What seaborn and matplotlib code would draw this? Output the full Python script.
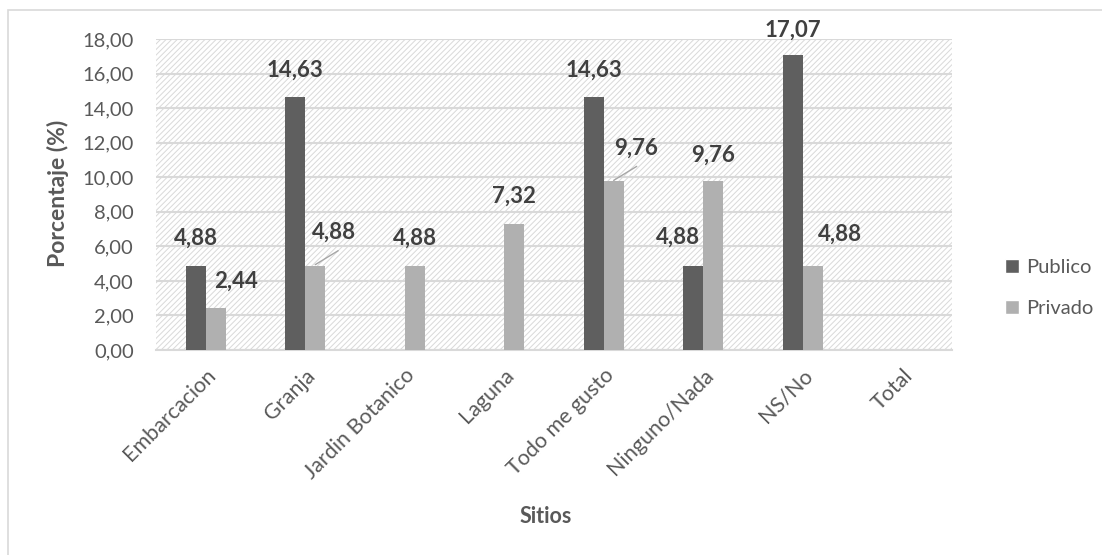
import matplotlib
matplotlib.use("Agg")
import matplotlib.pyplot as plt
import seaborn as sns
import pandas as pd
from matplotlib.patches import Rectangle
from matplotlib.lines import Line2D

categories = ["Embarcacion", "Granja", "Jardin Botanico", "Laguna",
              "Todo me gusto", "Ninguno/Nada", "NS/No", "Total"]
publico = [4.88, 14.63, 0.0, 0.0, 14.63, 4.88, 17.07, 0.0]
privado = [2.44, 4.88, 4.88, 7.32, 9.76, 9.76, 4.88, 0.0]
series_names = ["Publico", "Privado"]
y_ticks = [0, 2, 4, 6, 8, 10, 12, 14, 16, 18]

# label offsets in pixels (dx, dy) from top-center of each bar; None -> no label
pub_offsets = [(0, 27), (0, 27), None, None, (0, 27), (-15, 28), (0, 25), None]
priv_offsets = [(20, 27), (19, 33), (0, 27), (0, 27), (22, 33), (0, 26), (27, 31), None]
leader = [False, True, False, False, True, False, False, False]

df = pd.DataFrame({
    "Sitios": categories * 2,
    "Serie": [series_names[0]] * len(categories) + [series_names[1]] * len(categories),
    "Valor": publico + privado,
})

sns.set_theme(style="white")
font = "Lato"
plt.rcParams["font.family"] = [font, "DejaVu Sans"]
plt.rcParams["hatch.linewidth"] = 0.7

txt = "#595959"
pub_c = "#5f5f5f"
priv_c = "#b0b0b0"

fig = plt.figure(figsize=(11.02, 5.55), dpi=100)
ax = fig.add_axes([156 / 1102, 1 - 350 / 555, (952 - 156) / 1102, (350 - 39) / 555])

# hatched plot-area background
ax.set_facecolor("white")
bg = Rectangle((0, 0), 1, 1, transform=ax.transAxes, facecolor="white",
               edgecolor="#d9d9d9", hatch="//////", linewidth=0, zorder=0)
ax.add_patch(bg)

sns.barplot(data=df, x="Sitios", y="Valor", hue="Serie",
            palette=[pub_c, priv_c], width=0.4, dodge=True, ax=ax,
            saturation=1, legend=True, zorder=3, linewidth=0)

ax.set_ylim(0, 18)
ax.set_xlim(-0.5, len(categories) - 0.5)
ax.set_yticks(y_ticks)
ax.set_yticklabels([f"{v:.2f}".replace(".", ",") for v in y_ticks])
ax.yaxis.grid(True, color="#d9d9d9", linewidth=1.5, zorder=1)
ax.set_axisbelow(True)
for s in ["top", "right", "left"]:
    ax.spines[s].set_visible(False)
ax.spines["bottom"].set_color("#d9d9d9")
ax.spines["bottom"].set_linewidth(1.5)
ax.tick_params(axis="y", length=0, labelsize=14.5, colors=txt, pad=16)
ax.tick_params(axis="x", length=0, labelsize=15.5, colors=txt, pad=11)
plt.setp(ax.get_xticklabels(), rotation=45, ha="right", rotation_mode="anchor")

ax.set_xlabel("Sitios", fontsize=15.5, fontweight="bold", color=txt)
ax.set_ylabel("Porcentaje (%)", fontsize=16.5, fontweight="bold", color=txt)
ax.xaxis.set_label_coords((546 - 156) / 796, (350 - 506) / 311)
ax.yaxis.set_label_coords((69 - 156) / 796, (350 - 193) / 311)

# data labels
bars = [p for p in ax.patches if p is not bg]
n = len(categories)
pub_bars = sorted(bars[:n], key=lambda p: p.get_x())
priv_bars = sorted(bars[n:2 * n], key=lambda p: p.get_x())

def label(bar, val, off, with_leader=False):
    if off is None or val == 0:
        return
    x = bar.get_x() + bar.get_width() / 2
    y = bar.get_height()
    ax.annotate(f"{val:.2f}".replace(".", ","), xy=(x, y), xytext=off,
                textcoords="offset pixels", ha="center", va="center",
                fontsize=16, fontweight="bold", color="#404040",
                annotation_clip=False, zorder=5)
    if with_leader:
        disp = ax.transData.transform((x, y))
        x0, y0 = disp[0], disp[1] + 1
        x1, y1 = disp[0] + 23, disp[1] + 15
        inv = ax.transData.inverted()
        p0 = inv.transform((x0, y0))
        p1 = inv.transform((x1, y1))
        ax.add_line(Line2D([p0[0], p1[0]], [p0[1], p1[1]], color="#a6a6a6",
                           linewidth=1, zorder=5))

for i in range(n):
    label(pub_bars[i], publico[i], pub_offsets[i])
    label(priv_bars[i], privado[i], priv_offsets[i], leader[i])

# legend
leg = ax.get_legend()
if leg is not None:
    leg.remove()
handles = [Rectangle((0, 0), 1, 1, facecolor=pub_c), Rectangle((0, 0), 1, 1, facecolor=priv_c)]
fig.legend(handles, series_names, loc="center left",
           bbox_to_anchor=(987 / 1102, 1 - 288 / 555), frameon=False,
           fontsize=14.5, labelcolor=txt, handlelength=0.7, handleheight=0.7,
           handletextpad=0.35, labelspacing=1.2)

# chart-area border (top/left visible)
fig.add_artist(Rectangle((8 / 1102, -0.05), 1.2, 1 - 10 / 555 + 0.05,
                         transform=fig.transFigure, fill=False,
                         edgecolor="#d9d9d9", linewidth=1.2))

fig.savefig("out.png", dpi=100)
